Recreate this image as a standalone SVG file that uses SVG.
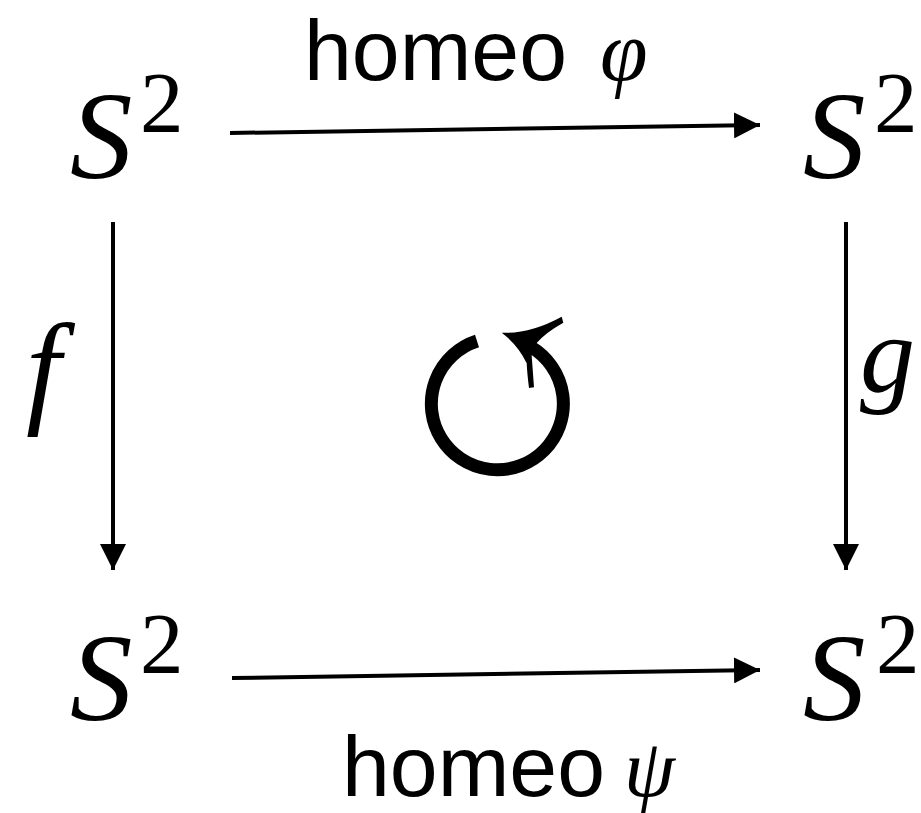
<svg xmlns="http://www.w3.org/2000/svg" width="921" height="813" viewBox="0 0 921 813">
<style>
.S{font-style:italic;font-size:125px;fill:#000}
.sup{font-style:normal;font-size:87px;fill:#000}
.lbl{font-family:'Liberation Sans',Arial,sans-serif;font-size:86px;fill:#000}
.math{font-style:italic;fill:#000}
.edge{stroke:#000;stroke-width:4;fill:none}
</style>
<defs>
<marker id="ah" viewBox="0 0 10 10" refX="10" refY="5" markerWidth="6.5" markerHeight="6.5" orient="auto" markerUnits="strokeWidth">
<path d="M0,0 L10,5 L0,10 Z" fill="#000"/>
</marker>
</defs>
<rect width="921" height="813" fill="#fff"/>
<g font-family="Liberation Serif, DejaVu Serif, Noto Serif, serif">
<g id="n-tl"><text class="S" x="70" y="178">S</text><text class="sup" x="140" y="132">2</text></g>
<g id="n-tr"><text class="S" x="803" y="178">S</text><text class="sup" x="874" y="132">2</text></g>
<g id="n-bl"><text class="S" x="70" y="720">S</text><text class="sup" x="140" y="673">2</text></g>
<g id="n-br"><text class="S" x="803" y="720">S</text><text class="sup" x="876" y="673">2</text></g>
</g>
<g id="connectors">
<line class="edge" x1="230" y1="133" x2="760" y2="125" marker-end="url(#ah)"/>
<line class="edge" x1="232" y1="678" x2="760" y2="670" marker-end="url(#ah)"/>
<line class="edge" x1="113" y1="222" x2="113" y2="570" marker-end="url(#ah)"/>
<line class="edge" x1="846" y1="222" x2="846" y2="570" marker-end="url(#ah)"/>
</g>
<g id="labels">
<text class="lbl" x="304" y="80">homeo</text>
<g font-family="Liberation Serif, DejaVu Serif, Noto Serif, serif">
<text class="math" x="600" y="80" font-size="86">φ</text>
<text class="math" x="624" y="796" font-size="82">ψ</text>
<text class="math" x="26" y="410" font-size="125">f</text>
<text class="math" x="860" y="392" font-size="110">g</text>
</g>
<text class="lbl" x="342" y="796">homeo</text>
</g>
<g id="cycle">
<path d="M477,341 A66,66 0 1 0 531,347" stroke="#000" stroke-width="13" fill="none"/>
<path d="M501.7,332.7 Q530,334 561.7,316.7 L563.3,322.7 Q545,333 536.7,343 Q532,352 531.7,356 L534,387.3 L529,388 Q527,372 526.7,363.3 Q518,345 501.7,332.7 Z" fill="#000"/>
</g>
</svg>
